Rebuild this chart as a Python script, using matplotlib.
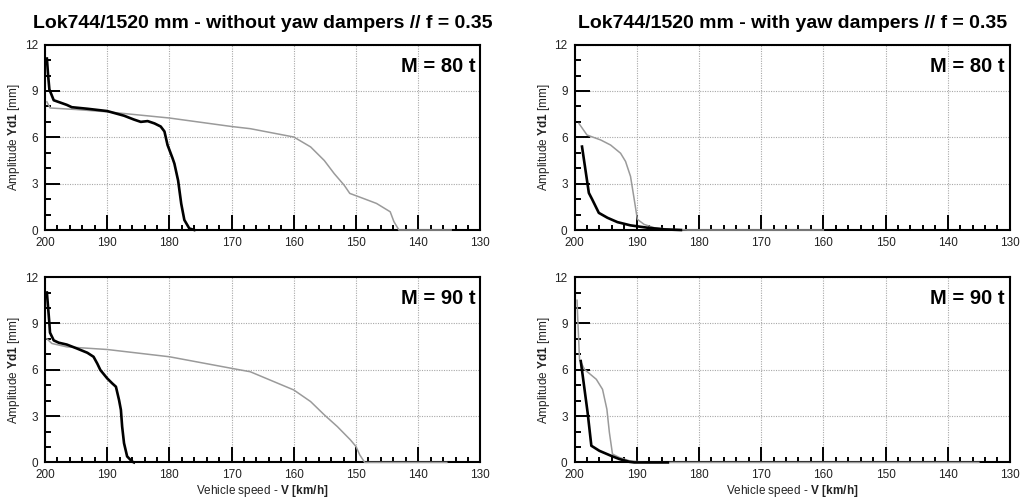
import numpy as np
import matplotlib
matplotlib.use("Agg")
import matplotlib.pyplot as plt
from matplotlib.ticker import MultipleLocator

plt.rcParams['font.family'] = ['Liberation Sans', 'DejaVu Sans']
plt.rcParams['mathtext.fontset'] = 'custom'
plt.rcParams['mathtext.rm'] = 'Liberation Sans'
plt.rcParams['mathtext.bf'] = 'Liberation Sans:bold'

# --- data (speed km/h, amplitude mm) ---
titles = ["Lok744/1520 mm - without yaw dampers // f = 0.35",
          "Lok744/1520 mm - with yaw dampers // f = 0.35"]
mass_labels = ["M = 80 t", "M = 90 t"]

# without dampers, 80 t
v_black_80_wo = [199.7, 199.5, 199.3, 198.6, 196.5, 195.7, 193.2, 190.0, 187.3, 185.7, 184.6,
                 183.5, 182.4, 181.4, 180.8, 180.3, 179.5, 179.2, 178.6, 178.1, 177.6, 176.8, 176.0]
a_black_80_wo = [11.1, 10.0, 9.1, 8.4, 8.1, 7.95, 7.85, 7.7, 7.4, 7.15, 7.0,
                 7.05, 6.9, 6.7, 6.38, 5.5, 4.65, 4.3, 3.2, 1.7, 0.65, 0.1, 0.0]
v_grey_80_wo = [199.7, 199.2, 195.0, 190.0, 180.0, 170.0, 167.0, 160.0, 157.3, 155.1, 153.5,
                151.9, 151.0, 148.8, 146.7, 144.5, 143.9, 143.1, 134.7]
a_grey_80_wo = [8.3, 7.9, 7.8, 7.65, 7.25, 6.7, 6.56, 6.02, 5.38, 4.5, 3.65,
                2.9, 2.37, 2.04, 1.72, 1.18, 0.54, 0.0, 0.0]

# without dampers, 90 t
v_black_90_wo = [199.7, 199.5, 199.3, 199.2, 198.6, 197.8, 196.5, 194.9, 193.2, 192.2, 191.6,
                 191.1, 190.0, 189.2, 188.6, 188.1, 187.8, 187.6, 187.3, 186.8, 186.0, 185.7]
a_black_90_wo = [11.0, 10.0, 9.0, 8.4, 7.9, 7.75, 7.63, 7.38, 7.1, 6.84, 6.4,
                 5.98, 5.44, 5.12, 4.9, 4.04, 3.4, 2.32, 1.25, 0.39, 0.06, 0.0]
v_grey_90_wo = [199.7, 198.9, 196.5, 190.0, 180.0, 170.0, 167.0, 160.0, 157.3, 155.1, 153.0,
                150.9, 150.0, 149.4, 148.6, 135.4]
a_grey_90_wo = [8.0, 7.7, 7.48, 7.31, 6.84, 6.09, 5.87, 4.69, 3.94, 3.08, 2.32,
                1.46, 1.03, 0.49, 0.0, 0.0]

# with dampers, 80 t
v_black_80_w = [198.8, 197.7, 197.15, 196.1, 194.7, 193.1, 191.0, 188.3, 185.6, 182.9]
a_black_80_w = [5.4, 2.4, 1.97, 1.11, 0.79, 0.51, 0.3, 0.15, 0.04, 0.0]
v_grey_80_w = [199.3, 198.0, 195.8, 194.2, 192.6, 191.8, 191.0, 190.4, 189.9, 188.8, 187.2,
               184.5, 181.8, 160.0]
a_grey_80_w = [6.9, 6.15, 5.83, 5.5, 4.97, 4.44, 3.47, 1.97, 0.69, 0.36, 0.15,
               0.04, 0.0, 0.0]

# with dampers, 90 t
v_black_90_w = [199.0, 197.9, 197.3, 196.0, 193.9, 192.8, 191.2, 190.4, 185.0]
a_black_90_w = [6.56, 3.23, 1.08, 0.75, 0.39, 0.22, 0.04, 0.0, 0.0]
v_grey_90_w = [199.6, 199.5, 199.2, 198.4, 196.5, 195.5, 194.8, 194.4, 193.9, 192.8, 191.2,
               188.5, 135.0]
a_grey_90_w = [10.5, 9.46, 6.67, 6.02, 5.38, 4.73, 3.44, 1.94, 0.54, 0.32, 0.11,
               0.0, 0.0]

panels = [
    [(v_black_80_wo, a_black_80_wo, v_grey_80_wo, a_grey_80_wo),
     (v_black_80_w, a_black_80_w, v_grey_80_w, a_grey_80_w)],
    [(v_black_90_wo, a_black_90_wo, v_grey_90_wo, a_grey_90_wo),
     (v_black_90_w, a_black_90_w, v_grey_90_w, a_grey_90_w)],
]

fig = plt.figure(figsize=(10.28, 5.01), dpi=100)

lefts = [0.0438, 0.5589]
bottoms = [0.5409, 0.0770]
w, h = 0.4235, 0.3700

for r in range(2):
    for c in range(2):
        ax = fig.add_axes([lefts[c], bottoms[r], w, h])
        vb, ab, vg, ag = panels[r][c]
        ax.plot(vg, ag, color='#9a9a9a', lw=1.1, zorder=3, clip_on=False)
        ax.plot(vb, ab, color='black', lw=1.9, zorder=4, clip_on=False)

        ax.set_xlim(200, 130)
        ax.set_ylim(0, 12)
        ax.xaxis.set_major_locator(MultipleLocator(10))
        ax.xaxis.set_minor_locator(MultipleLocator(2))
        ax.yaxis.set_major_locator(MultipleLocator(3))
        ax.yaxis.set_minor_locator(MultipleLocator(1))
        ax.tick_params(which='major', direction='in', length=11, width=1.4,
                       labelsize=8.5, labelcolor='#222222', pad=5)
        ax.tick_params(which='minor', direction='in', length=4.5, width=1.4)
        ax.tick_params(axis='x', which='major', length=11)
        ax.tick_params(axis='x', which='minor', length=3.6)
        ax.grid(True, which='major', color='#a8a8a8', lw=0.8, linestyle=(0, (1, 1.2)))
        ax.set_axisbelow(True)
        for sp in ax.spines.values():
            sp.set_linewidth(1.5)
            sp.set_color('black')
            sp.set_zorder(2)

        ax.set_ylabel(r'Amplitude $\mathbf{Yd1}$ [mm]', fontsize=8.5, color='#222222', labelpad=2)
        if r == 1:
            ax.set_xlabel(r'Vehicle speed - $\mathbf{V\ [km/h]}$', fontsize=8.5,
                          color='#222222', labelpad=1)
        if r == 0:
            ax.set_title(titles[c], fontsize=14, fontweight='bold', pad=12)
        ax.text(0.988, 0.935, mass_labels[r], transform=ax.transAxes, ha='right', va='top',
                fontsize=14.5, fontweight='bold', zorder=5)

plt.savefig("out.png", dpi=100)
